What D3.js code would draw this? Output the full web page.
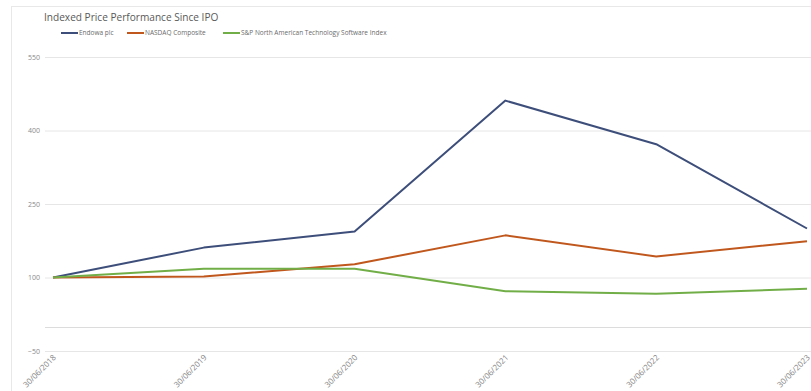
<!DOCTYPE html>
<html><head><meta charset="utf-8">
<script src="https://cdn.jsdelivr.net/npm/d3@7"></script>
<style>html,body{margin:0;padding:0;background:#fff;}svg{display:block;font-family:"Open Sans",sans-serif;}</style>
</head><body>
<svg id="c" width="811" height="391"></svg>
<script>
const categories = ["30/06/2018","30/06/2019","30/06/2020","30/06/2021","30/06/2022","30/06/2023"];
const endowa = [100, 161, 194, 461, 372, 200];
const nasdaq = [100, 102, 127, 186, 143, 174];
const sp = [100, 118, 118, 72, 67, 77];
const yTicks = [-50, 100, 250, 400, 550];
const seriesNames = ["Endowa plc","NASDAQ Composite","S&P North American Technology Software Index"];
const colors = ["#3d4e7a","#c0571d","#72ae48"];
const title = "Indexed Price Performance Since IPO";

const svg = d3.select("#c");
svg.append("rect").attr("x",11.5).attr("y",6.5).attr("width",820).attr("height",400)
  .attr("fill","none").attr("stroke","#e8e8e8");

const x = d3.scalePoint().domain(categories).range([53, 807]);
const y = d3.scaleLinear().domain([-50, 550]).range([351, 57]);

svg.append("g").selectAll("line").data(yTicks).join("line")
  .attr("x1",45).attr("x2",811).attr("y1",d=>y(d)+0.5).attr("y2",d=>y(d)+0.5)
  .attr("stroke","#e6e6e6").attr("stroke-width",1);
svg.append("line").attr("x1",45).attr("x2",811).attr("y1",Math.round(y(0))+0.5).attr("y2",Math.round(y(0))+0.5)
  .attr("stroke","#dcdcdc").attr("stroke-width",1);

const yAxis = d3.axisLeft(y).tickValues(yTicks).tickSize(0).tickPadding(0);
const gy = svg.append("g").attr("transform","translate(40,0)").call(yAxis);
gy.select(".domain").remove();
gy.selectAll("text").attr("fill","#8a8a8a").style("font-size","7px").style("font-family","'Open Sans',sans-serif");

const xAxis = d3.axisBottom(x).tickSize(0).tickPadding(0);
const gx = svg.append("g").attr("transform","translate(0,356)").call(xAxis);
gx.select(".domain").remove();
gx.selectAll("text").attr("fill","#858585").style("font-size","8px").style("font-family","'Open Sans',sans-serif")
  .attr("text-anchor","end").attr("dy","0.35em").attr("dx","0")
  .attr("transform","translate(1,0) rotate(-45)");

const line = d3.line().x((d,i)=>x(categories[i])).y(d=>y(d));
[endowa, nasdaq, sp].forEach((s,i)=>{
  svg.append("path").datum(s).attr("d",line).attr("fill","none")
    .attr("stroke",colors[i]).attr("stroke-width",2).attr("stroke-linejoin","round");
});

svg.append("text").attr("x",44).attr("y",21).text(title)
  .attr("fill","#595959").style("font-size","10.1px");

const legX = [61, 127, 223];
seriesNames.forEach((n,i)=>{
  svg.append("line").attr("x1",legX[i]).attr("x2",legX[i]+17).attr("y1",33).attr("y2",33)
    .attr("stroke",colors[i]).attr("stroke-width",2);
  svg.append("text").attr("x",legX[i]+18).attr("y",33).attr("dy","0.35em").text(n)
    .attr("fill","#6b6b6b").style("font-size","6.5px");
});
</script>
</body></html>
